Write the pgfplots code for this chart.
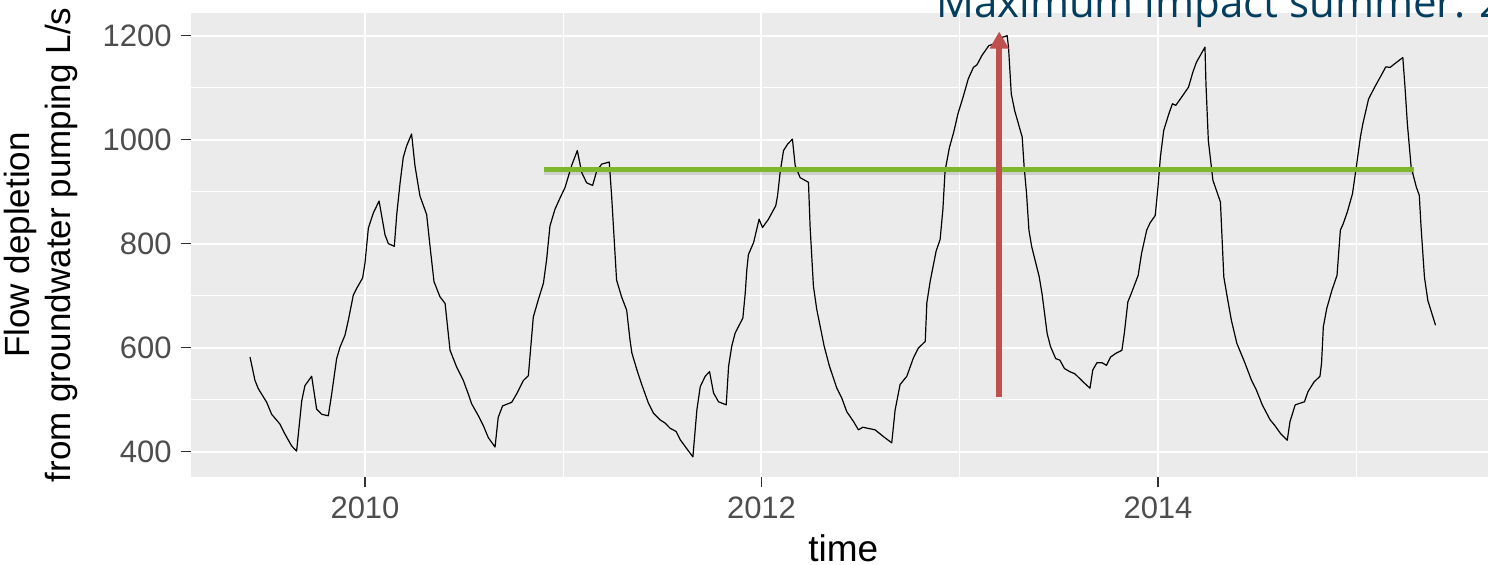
\documentclass[border=0pt]{standalone}
\usepackage{fontspec}
\setmainfont{Liberation Sans}
\newfontfamily\titlefont{Open Sans}
\usepackage{pgfplots}
\pgfplotsset{compat=1.18}
\usepackage{pgfplotstable}
\usetikzlibrary{arrows.meta}

\definecolor{ggbg}{HTML}{EBEBEB}
\definecolor{gg30}{HTML}{4D4D4D}
\definecolor{gg20}{HTML}{333333}
\definecolor{limegreen}{RGB}{126,183,44}
\definecolor{arrowred}{RGB}{192,80,77}
\definecolor{titleblue}{RGB}{4,62,94}

% time (decimal year), flow depletion L/s
\pgfplotstableread{
t v
2009.420 582
2009.445 537
2009.462 521
2009.504 495
2009.529 472
2009.571 453
2009.596 434
2009.630 411
2009.655 401
2009.681 498
2009.697 527
2009.731 545
2009.756 482
2009.781 472
2009.815 469
2009.832 511
2009.857 579
2009.874 601
2009.899 624
2009.916 653
2009.941 701
2009.958 714
2009.988 734
2010.000 763
2010.017 830
2010.042 859
2010.071 882
2010.101 817
2010.118 800
2010.148 795
2010.160 856
2010.177 917
2010.193 966
2010.210 988
2010.235 1011
2010.252 950
2010.277 892
2010.311 856
2010.328 795
2010.348 727
2010.378 698
2010.404 685
2010.429 595
2010.462 563
2010.496 537
2010.521 511
2010.538 492
2010.572 469
2010.597 450
2010.622 427
2010.656 409
2010.672 466
2010.694 488
2010.740 495
2010.765 511
2010.799 537
2010.824 546
2010.849 659
2010.874 692
2010.900 724
2010.916 769
2010.933 834
2010.958 866
2010.984 888
2011.009 908
2011.042 950
2011.071 979
2011.093 937
2011.118 917
2011.148 912
2011.169 940
2011.194 953
2011.232 957
2011.244 892
2011.269 730
2011.294 698
2011.320 672
2011.337 614
2011.346 590
2011.371 558
2011.396 529
2011.430 493
2011.455 474
2011.489 461
2011.514 455
2011.539 445
2011.569 439
2011.590 423
2011.615 410
2011.654 390
2011.674 480
2011.691 525
2011.716 545
2011.738 554
2011.758 513
2011.783 496
2011.822 490
2011.834 564
2011.850 603
2011.867 628
2011.906 657
2011.918 705
2011.926 750
2011.934 779
2011.960 802
2011.988 847
2012.005 831
2012.035 847
2012.072 873
2012.081 892
2012.094 937
2012.111 979
2012.133 992
2012.156 1001
2012.170 950
2012.195 927
2012.237 918
2012.245 834
2012.262 718
2012.279 673
2012.296 641
2012.316 603
2012.343 564
2012.380 522
2012.405 503
2012.430 477
2012.464 458
2012.489 442
2012.511 447
2012.573 442
2012.615 429
2012.657 417
2012.674 480
2012.699 529
2012.733 545
2012.766 580
2012.791 599
2012.826 612
2012.834 686
2012.851 728
2012.881 786
2012.901 808
2012.915 866
2012.926 940
2012.948 985
2012.970 1015
2012.991 1050
2013.017 1082
2013.043 1117
2013.069 1139
2013.087 1144
2013.112 1162
2013.147 1181
2013.173 1184
2013.216 1197
2013.239 1200
2013.246 1178
2013.260 1088
2013.277 1056
2013.315 1005
2013.325 947
2013.337 896
2013.349 826
2013.363 794
2013.401 736
2013.415 704
2013.441 627
2013.458 602
2013.484 579
2013.505 576
2013.528 560
2013.554 554
2013.580 550
2013.623 534
2013.657 522
2013.671 557
2013.692 571
2013.718 571
2013.740 566
2013.761 582
2013.787 589
2013.818 595
2013.830 627
2013.848 688
2013.865 704
2013.900 739
2013.917 781
2013.943 826
2013.960 840
2013.986 854
2014.000 909
2014.012 966
2014.029 1018
2014.055 1050
2014.073 1069
2014.090 1066
2014.125 1085
2014.154 1101
2014.176 1130
2014.194 1149
2014.237 1178
2014.242 1107
2014.254 998
2014.277 922
2014.315 880
2014.332 736
2014.349 698
2014.370 653
2014.398 608
2014.436 573
2014.471 538
2014.497 518
2014.526 490
2014.566 461
2014.588 451
2014.618 435
2014.652 422
2014.666 458
2014.692 490
2014.739 496
2014.756 515
2014.787 534
2014.817 545
2014.825 570
2014.834 640
2014.851 675
2014.877 710
2014.903 739
2014.920 826
2014.934 838
2014.955 861
2014.981 896
2014.998 941
2015.021 1005
2015.033 1030
2015.062 1078
2015.093 1101
2015.125 1123
2015.149 1140
2015.171 1139
2015.194 1146
2015.235 1158
2015.246 1101
2015.258 1030
2015.277 947
2015.303 909
2015.318 893
2015.327 832
2015.344 736
2015.361 691
2015.400 643
}\flowdata

\begin{document}
\begin{tikzpicture}
\useasboundingbox (0,0) rectangle (1488bp,565bp);
\clip (0,0) rectangle (1488bp,565bp);
\begin{axis}[
    at={(190.7bp,88bp)}, anchor=south west,
    scale only axis,
    width=1305.3bp, height=464bp,
    xmin=2009.1208, xmax=2015.705,
    ymin=351.3, ymax=1243.6,
    axis background/.style={fill=ggbg},
    axis lines*=left,
    axis line style={draw=none},
    xtick={2010,2012,2014},
    minor xtick={2011,2013,2015},
    ytick={400,600,800,1000,1200},
    minor ytick={500,700,900,1100},
    grid=both,
    major grid style={white, line width=2bp},
    minor grid style={white, line width=1.3bp},
    tick align=outside,
    major tick length=10bp,
    minor tick length=0pt,
    tick style={gg20, line width=1.3bp},
    /pgf/number format/1000 sep={},
    /pgf/number format/assume math mode=true,
    ticklabel style={font=\fontsize{31bp}{31bp}\selectfont, text=gg30, inner sep=0pt},
    xticklabel style={anchor=base, yshift=-31bp},
    yticklabel style={anchor=east, xshift=-9bp},
    xlabel={time},
    xlabel style={at={(axis description cs:0.5,-0.1815)}, anchor=base, inner sep=0pt,
        font=\fontsize{37bp}{37bp}\selectfont},
    ylabel={Flow depletion\\from groundwater pumping L/s},
    ylabel style={at={(axis description cs:-0.0861,0.5)}, anchor=south, align=center,
        inner sep=0pt, font=\fontsize{35bp}{41.5bp}\selectfont},
]
\addplot[black, line width=1.2bp, line join=round] table[x=t, y=v] {\flowdata};
% horizontal reference line (with faint shadow)
\addplot[black, opacity=0.12, line width=6bp, transform canvas={yshift=-3bp}]
    coordinates {(2010.905,943) (2015.292,943)};
\addplot[limegreen, line width=5.5bp] coordinates {(2010.905,943) (2015.292,943)};
% arrow marking the maximum
\addplot[arrowred, line width=5.5bp, -{Triangle[width=18bp,length=17bp]}]
    coordinates {(2013.199,505) (2013.199,1208)};
\end{axis}
\node[anchor=base west, inner sep=0pt, text=titleblue,
      font=\titlefont\fontsize{42bp}{42bp}\selectfont] at (936bp,547.5bp)
      {Maximum impact summer: 2013};
\end{tikzpicture}
\end{document}
